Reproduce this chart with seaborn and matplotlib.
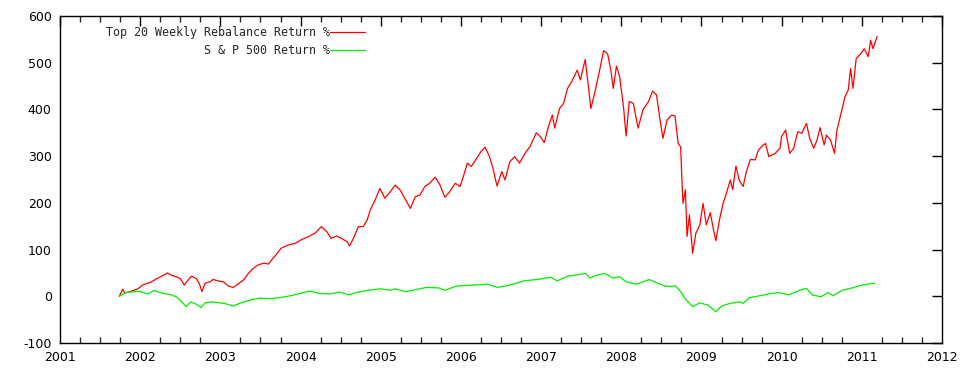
import numpy as np
import pandas as pd
import matplotlib
matplotlib.use("Agg")
import matplotlib.pyplot as plt
import seaborn as sns
from matplotlib.ticker import MultipleLocator

# ---- data (decimal years, return %) ----
top20_dates = [2001.74, 2001.78, 2001.81, 2001.87, 2001.96, 2002.04, 2002.12, 2002.21, 2002.29, 2002.34,
               2002.39, 2002.45, 2002.50, 2002.55, 2002.58, 2002.64, 2002.70, 2002.74, 2002.77, 2002.81,
               2002.87, 2002.91, 2002.97, 2003.04, 2003.10, 2003.16, 2003.22, 2003.29, 2003.35, 2003.41,
               2003.47, 2003.54, 2003.60, 2003.64, 2003.70, 2003.76, 2003.85, 2003.93, 2004.01, 2004.10,
               2004.18, 2004.26, 2004.33, 2004.38, 2004.45, 2004.51, 2004.58, 2004.61, 2004.66, 2004.72,
               2004.78, 2004.83, 2004.87, 2004.93, 2004.99, 2005.05, 2005.12, 2005.18, 2005.24, 2005.30,
               2005.37, 2005.43, 2005.49, 2005.55, 2005.61, 2005.68, 2005.74, 2005.80, 2005.86, 2005.93,
               2005.99, 2006.03, 2006.08, 2006.13, 2006.20, 2006.25, 2006.30, 2006.35, 2006.40, 2006.45,
               2006.51, 2006.55, 2006.61, 2006.67, 2006.73, 2006.80, 2006.86, 2006.94, 2006.99, 2007.04,
               2007.09, 2007.14, 2007.17, 2007.23, 2007.28, 2007.33, 2007.38, 2007.45, 2007.49, 2007.55,
               2007.59, 2007.62, 2007.67, 2007.73, 2007.78, 2007.83, 2007.87, 2007.90, 2007.94, 2007.98,
               2008.03, 2008.06, 2008.10, 2008.15, 2008.21, 2008.27, 2008.34, 2008.39, 2008.44, 2008.48,
               2008.52, 2008.57, 2008.63, 2008.67, 2008.71, 2008.74, 2008.76, 2008.77, 2008.80, 2008.82,
               2008.85, 2008.89, 2008.93, 2008.98, 2009.02, 2009.06, 2009.11, 2009.15, 2009.18, 2009.22,
               2009.27, 2009.31, 2009.36, 2009.39, 2009.43, 2009.47, 2009.52, 2009.56, 2009.61, 2009.67,
               2009.71, 2009.77, 2009.80, 2009.84, 2009.92, 2009.98, 2010.00, 2010.05, 2010.10, 2010.15,
               2010.20, 2010.25, 2010.31, 2010.35, 2010.40, 2010.44, 2010.48, 2010.53, 2010.56, 2010.61,
               2010.66, 2010.69, 2010.74, 2010.79, 2010.83, 2010.86, 2010.89, 2010.93, 2010.99, 2011.03,
               2011.08, 2011.11, 2011.14, 2011.19]
top20_values = [0, 15, 7, 10, 15, 25, 29, 38, 45, 50,
                45, 42, 38, 24, 31, 43, 38, 26, 10, 28,
                31, 36, 33, 31, 22, 19, 26, 35, 49, 60,
                67, 71, 69, 78, 90, 103, 110, 113, 121, 128,
                135, 149, 138, 124, 129, 124, 117, 108, 124, 149,
                149, 163, 185, 206, 231, 210, 224, 238, 228, 210,
                188, 213, 217, 235, 242, 255, 238, 212, 224, 242,
                235, 256, 285, 278, 296, 310, 319, 302, 274, 236,
                267, 249, 288, 299, 285, 306, 320, 350, 342, 329,
                363, 388, 360, 402, 413, 445, 459, 484, 463, 507,
                449, 402, 436, 484, 526, 519, 484, 445, 493, 470,
                402, 343, 417, 413, 360, 399, 417, 439, 431, 381,
                338, 377, 388, 386, 327, 320, 235, 199, 228, 128,
                174, 92, 135, 153, 199, 153, 179, 142, 119, 160,
                199, 220, 249, 228, 279, 249, 235, 267, 293, 292,
                313, 324, 327, 299, 306, 317, 342, 356, 306, 317,
                352, 349, 370, 338, 317, 334, 361, 324, 345, 334,
                306, 356, 391, 427, 441, 488, 445, 509, 520, 530,
                513, 548, 530, 556]

sp500_dates = [2001.74, 2001.82, 2001.99, 2002.09, 2002.17, 2002.29, 2002.37, 2002.45, 2002.52, 2002.57,
               2002.63, 2002.69, 2002.76, 2002.81, 2002.89, 2002.99, 2003.07, 2003.16, 2003.24, 2003.37,
               2003.49, 2003.62, 2003.74, 2003.87, 2003.99, 2004.11, 2004.24, 2004.37, 2004.49, 2004.60,
               2004.72, 2004.85, 2004.99, 2005.12, 2005.18, 2005.30, 2005.43, 2005.57, 2005.72, 2005.80,
               2005.95, 2006.15, 2006.33, 2006.46, 2006.61, 2006.78, 2006.95, 2007.12, 2007.20, 2007.33,
               2007.45, 2007.55, 2007.61, 2007.71, 2007.79, 2007.90, 2007.98, 2008.06, 2008.19, 2008.35,
               2008.48, 2008.56, 2008.68, 2008.74, 2008.79, 2008.85, 2008.89, 2008.98, 2009.08, 2009.18,
               2009.25, 2009.36, 2009.47, 2009.52, 2009.60, 2009.72, 2009.84, 2009.96, 2010.09, 2010.21,
               2010.31, 2010.38, 2010.49, 2010.58, 2010.64, 2010.76, 2010.86, 2010.96, 2011.07, 2011.16]
sp500_values = [0, 8, 11, 5, 12, 6, 4, -1, -12, -22,
                -12, -16, -24, -14, -12, -14, -16, -21, -15, -8,
                -4, -5, -3, 1, 6, 11, 6, 5, 9, 3,
                9, 13, 16, 13, 16, 10, 14, 19, 18, 13,
                22, 24, 26, 19, 24, 33, 36, 41, 33, 43,
                46, 49, 39, 46, 49, 39, 42, 31, 26, 36,
                26, 21, 22, 10, -4, -15, -22, -14, -19, -33,
                -21, -15, -12, -15, -3, 1, 5, 8, 3, 12,
                17, 3, -1, 8, 1, 13, 17, 22, 26, 28]

series_labels = ["Top 20 Weekly Rebalance Return %", "S & P 500 Return %"]
x_ticks = list(range(2001, 2013))
y_ticks = list(range(-100, 601, 100))

df_top = pd.DataFrame({"date": top20_dates, "ret": top20_values})
df_sp = pd.DataFrame({"date": sp500_dates, "ret": sp500_values})

sns.set_style("white")
plt.rcParams["font.family"] = ["DejaVu Sans"]

fig = plt.figure(figsize=(9.62, 3.78), dpi=100)
ax = fig.add_axes([60 / 962, 35 / 378, 882 / 962, 327 / 378])

sns.lineplot(data=df_top, x="date", y="ret", ax=ax, color="#ff0000", linewidth=0.9,
             label=series_labels[0], estimator=None, sort=False)
sns.lineplot(data=df_sp, x="date", y="ret", ax=ax, color="#00ee00", linewidth=0.9,
             label=series_labels[1], estimator=None, sort=False)

ax.set_xlim(2001, 2012)
ax.set_ylim(-100, 600)
ax.set_xticks(x_ticks)
ax.set_xticklabels([str(t) for t in x_ticks])
ax.set_yticks(y_ticks)
ax.set_yticklabels([str(t) for t in y_ticks])
ax.xaxis.set_minor_locator(MultipleLocator(0.25))
ax.set_xlabel("")
ax.set_ylabel("")

for s in ax.spines.values():
    s.set_color("black")
    s.set_linewidth(1.0)

ax.tick_params(axis="both", which="major", direction="in", length=7, width=1,
               top=True, right=True, labelsize=9, colors="black", pad=6)
ax.tick_params(axis="x", which="minor", direction="in", length=4, width=1,
               top=True, bottom=True)

leg = ax.legend(loc="upper right", bbox_to_anchor=(0.346, 0.97), frameon=False,
                markerfirst=False, handlelength=3.0, handletextpad=0.0,
                labelspacing=0.45, borderpad=0.0, borderaxespad=0.0,
                prop={"family": "DejaVu Sans Mono", "size": 8.4})
for col in leg._legend_handle_box.get_children():
    col.align = "right"

fig.savefig("out.png", dpi=100)
